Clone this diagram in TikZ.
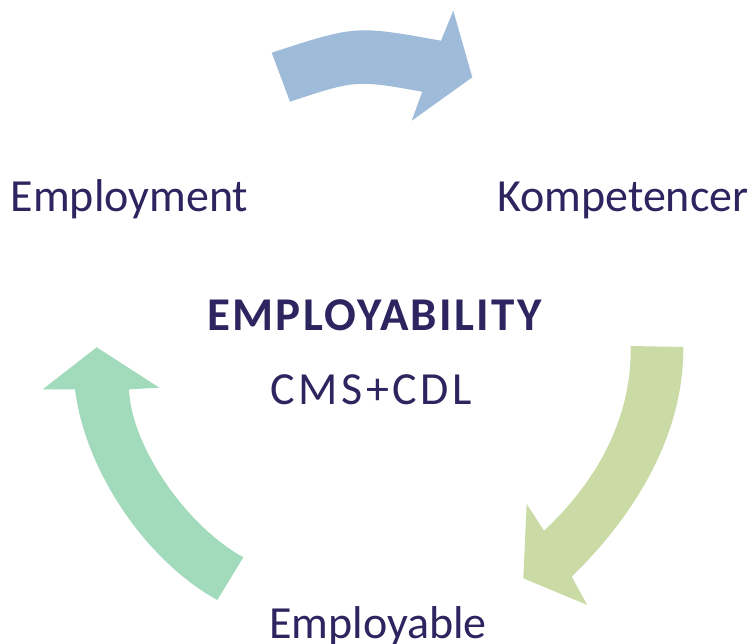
\documentclass[tikz,border=0pt]{standalone}
\usepackage{fontspec}
\setmainfont{Carlito}
\definecolor{txt}{HTML}{2C2560}
\definecolor{arrblue}{HTML}{9FBBDA}
\definecolor{arrgreen}{HTML}{CADBA6}
\definecolor{arrmint}{HTML}{A1DBBC}
\tikzset{
  lbl/.style={anchor=base west, inner sep=0pt, text=txt, font=\fontsize{46}{54}\selectfont},
  blbl/.style={lbl, font=\fontsize{47}{54}\selectfont\bfseries\addfontfeature{LetterSpace=5}},
  slbl/.style={lbl, font=\fontsize{46}{54}\selectfont\addfontfeature{LetterSpace=8}},
  blockarrow/.style={draw=none}
}
\begin{document}
\begin{tikzpicture}[x=1pt,y=-1pt]
\useasboundingbox[fill=white] (0,0) rectangle (753,644);
% top arrow (blue)
\fill[blockarrow, arrblue] (271.7,52.7) .. controls (355.7,25.3) .. (441,40.7)
  -- (453.3,10.7) -- (472.3,77.3) -- (411.7,120.7) -- (422.3,91.7)
  .. controls (355.9,79.9) .. (290,101.7) -- cycle;
% right arrow (green)
\fill[blockarrow, arrgreen] (630.7,346) -- (683.3,347)
  .. controls (684,435) and (635,515) .. (571.7,576.7)
  -- (587.3,605) -- (523.3,578.3) -- (526.7,504) -- (544,530.7)
  .. controls (590,488) and (632,425) .. (630.7,346) -- cycle;
% left arrow (mint)
\fill[blockarrow, arrmint] (217.3,600) .. controls (145,560) and (85,470) .. (75,389.3)
  -- (42.7,389.3) -- (96.7,347.3) -- (159.3,387.7) -- (129,389.3)
  .. controls (131,445) and (185,525) .. (243.3,557.3) -- cycle;
% labels
\node[lbl] (employment) at (10.5,211.7) {Employment};
\node[lbl] (kompetencer) at (497,211.7) {Kompetencer};
\node[lbl] (employable) at (269,638.3) {Employable};
\node[blbl] (title) at (207,330.7) {EMPLOYABILITY};
\node[slbl] (sub) at (270,404.3) {CMS+CDL};
\end{tikzpicture}
\end{document}
